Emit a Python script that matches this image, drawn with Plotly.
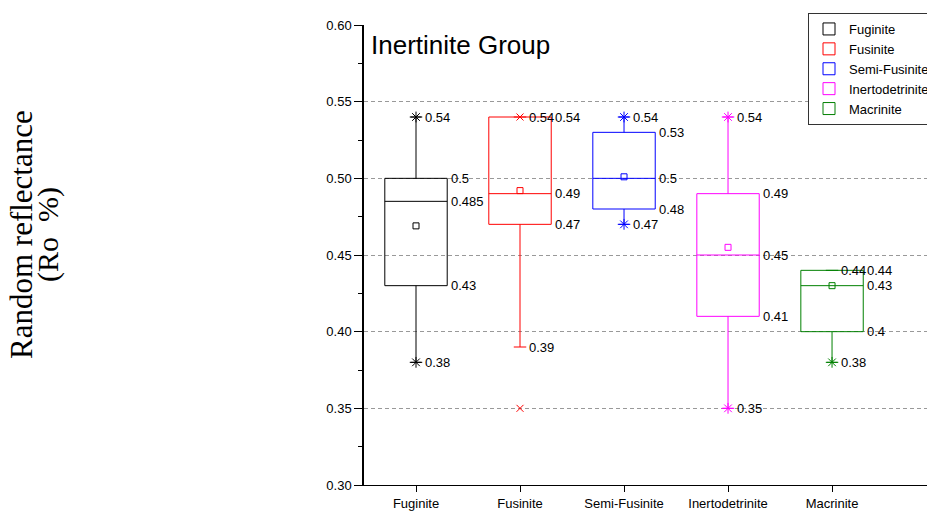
import plotly.graph_objects as go

# ---- data ----
categories = ["Fuginite", "Fusinite", "Semi-Fusinite", "Inertodetrinite", "Macrinite"]
colors = ["#000000", "#ff0000", "#0000ff", "#ff00ff", "#008000"]
q1 = [0.43, 0.47, 0.48, 0.41, 0.40]
median = [0.485, 0.49, 0.50, 0.45, 0.43]
q3 = [0.50, 0.54, 0.53, 0.49, 0.44]
whisker_low = [0.38, 0.39, 0.47, 0.35, 0.38]
whisker_high = [0.54, 0.54, 0.54, 0.54, 0.44]
means = [0.469, 0.492, 0.501, 0.455, 0.43]
# extreme markers (asterisk) and 1%/99% markers (x)
star_points = [[0.54, 0.38], [], [0.54, 0.47], [0.54, 0.35], [0.38]]
cross_points = [[], [0.54, 0.35], [], [], [0.54]]
y_ticks = [0.30, 0.35, 0.40, 0.45, 0.50, 0.55, 0.60]

FONT = "Liberation Sans, Arial, sans-serif"
SERIF = "Liberation Serif, Times New Roman, serif"

fig = go.Figure()

for i, cat in enumerate(categories):
    c = colors[i]
    fig.add_trace(go.Box(
        x=[cat], name=cat,
        q1=[q1[i]], median=[median[i]], q3=[q3[i]],
        lowerfence=[whisker_low[i]], upperfence=[whisker_high[i]],
        width=0.6, whiskerwidth=0.2,
        line=dict(color=c, width=1), fillcolor="rgba(255,255,255,0)",
        boxpoints=False, hoverinfo="skip", showlegend=True,
    ))

for i, cat in enumerate(categories):
    c = colors[i]
    fig.add_trace(go.Scatter(
        x=[cat], y=[means[i]], mode="markers", showlegend=False, hoverinfo="skip",
        marker=dict(symbol="square-open", size=6, color=c, line=dict(color=c, width=1)),
    ))
    if star_points[i]:
        fig.add_trace(go.Scatter(
            x=[cat] * len(star_points[i]), y=star_points[i], mode="markers",
            showlegend=False, hoverinfo="skip",
            marker=dict(symbol="asterisk-open", size=9, color=c, line=dict(color=c, width=1)),
        ))
    if cross_points[i]:
        fig.add_trace(go.Scatter(
            x=[cat] * len(cross_points[i]), y=cross_points[i], mode="markers",
            showlegend=False, hoverinfo="skip",
            marker=dict(symbol="x-thin-open", size=7, color=c, line=dict(color=c, width=1)),
        ))

annotations = []
label_font = dict(family=FONT, size=13, color="#000000")
for i, cat in enumerate(categories):
    for v in (whisker_high[i], whisker_low[i]):
        annotations.append(dict(x=cat, y=v, xref="x", yref="y", text=f"{v:g}",
                                showarrow=False, xanchor="left", yanchor="middle",
                                xshift=7, font=label_font))
    for v in (q3[i], median[i], q1[i]):
        annotations.append(dict(x=cat, y=v, xref="x", yref="y", text=f"{v:g}",
                                showarrow=False, xanchor="left", yanchor="middle",
                                xshift=33, font=label_font))

annotations.append(dict(x=0, y=0.9565, xref="paper", yref="paper", text="Inertinite Group",
                        showarrow=False, xanchor="left", yanchor="middle", xshift=5,
                        font=dict(family=FONT, size=26, color="#000000")))
annotations.append(dict(x=(22 - 364) / 563, y=0.5435, xref="paper", yref="paper",
                        text="Random reflectance", textangle=-90, showarrow=False,
                        xanchor="center", yanchor="middle",
                        font=dict(family=SERIF, size=31, color="#000000")))
annotations.append(dict(x=(48 - 364) / 563, y=0.5435, xref="paper", yref="paper",
                        text="(Ro\u00a0\u00a0%)", textangle=-90, showarrow=False,
                        xanchor="center", yanchor="middle",
                        font=dict(family=SERIF, size=30, color="#000000")))

fig.update_layout(
    width=927, height=512,
    margin=dict(l=364, r=0, t=25, b=27, autoexpand=False),
    paper_bgcolor="white", plot_bgcolor="white",
    font=dict(family=FONT, size=13, color="#000000"),
    showlegend=True,
    legend=dict(x=(808 - 364) / 563, y=(485 - 13) / 460, xanchor="left", yanchor="top",
                bordercolor="#333333", borderwidth=1, bgcolor="white",
                font=dict(family=FONT, size=13, color="#000000"),
                tracegroupgap=0, itemwidth=30),
    annotations=annotations,
    xaxis=dict(type="category", categoryorder="array", categoryarray=categories,
               range=[-0.5, 4.913], showline=True, linecolor="#000000", linewidth=1,
               ticks="outside", ticklen=6, tickcolor="#000000", showgrid=False,
               zeroline=False, tickfont=dict(family=FONT, size=13)),
    yaxis=dict(range=[0.30, 0.60], tickvals=y_ticks, tickformat=".2f",
               showline=True, linecolor="#000000", linewidth=1.5,
               ticks="outside", ticklen=8, tickcolor="#000000",
               minor=dict(dtick=0.025, ticklen=4, tickcolor="#000000", ticks="outside", showgrid=False),
               showgrid=True, gridcolor="#999999", gridwidth=1, griddash="4px,3px",
               zeroline=False, tickfont=dict(family=FONT, size=13)),
)

fig.write_html("out.html")
